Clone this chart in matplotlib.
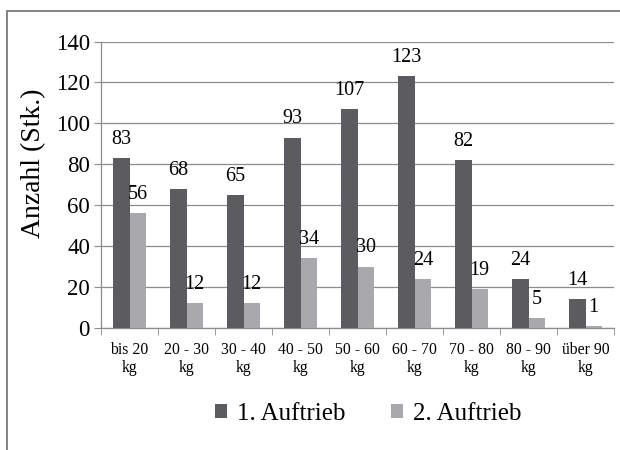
import numpy as np
import matplotlib
matplotlib.use("Agg")
import matplotlib.pyplot as plt
from matplotlib.patches import Rectangle

plt.rcParams['font.family'] = ['Liberation Serif', 'DejaVu Serif']

# Daten
kategorien = ["bis 20\nkg", "20 - 30\nkg", "30 - 40\nkg", "40 - 50\nkg", "50 - 60\nkg",
              "60 - 70\nkg", "70 - 80\nkg", "80 - 90\nkg", "über 90\nkg"]
auftrieb_1 = [83, 68, 65, 93, 107, 123, 82, 24, 14]
auftrieb_2 = [56, 12, 12, 34, 30, 24, 19, 5, 1]
serien = ["1. Auftrieb", "2. Auftrieb"]

dunkel = '#5c5c60'
hell = '#a9a9ad'
grau = '#8c8c8c'

W, H = 620, 450
fig = plt.figure(figsize=(6.2, 4.5), dpi=100)
ax = fig.add_axes([101/W, 1-328/H, (614-101)/W, (328-41.5)/H])

# Rahmen um das Diagramm (rechts und unten abgeschnitten)
fig.patches.append(Rectangle((7/W, -0.1), 1.2, 1-10.5/H+0.1, transform=fig.transFigure,
                             fill=False, edgecolor='#6e6e6e', linewidth=1.2))

x = np.arange(len(kategorien))
w = 0.29
b1 = ax.bar(x - w/2, auftrieb_1, w, color=dunkel, label=serien[0], zorder=3)
b2 = ax.bar(x + w/2, auftrieb_2, w, color=hell, label=serien[1], zorder=3)

for bars, vals in ((b1, auftrieb_1), (b2, auftrieb_2)):
    for r, v in zip(bars, vals):
        ax.text(r.get_x() + r.get_width()/2, v + 4.5, str(v), ha='center', va='bottom',
                fontsize=14.5, color='black')

ax.set_xlim(-0.5, len(kategorien) - 0.5)
ax.set_ylim(0, 140)
ax.set_yticks(range(0, 141, 20))
ax.yaxis.grid(True, color=grau, linewidth=0.9, zorder=0)
ax.tick_params(axis='y', labelsize=16.5, length=5, color=grau, pad=3)

ax.set_xticks(x)
ax.set_xticklabels(kategorien, fontsize=11.3, linespacing=1.15)
ax.set_xticks(np.arange(-0.5, len(kategorien), 1), minor=True)
ax.tick_params(axis='x', which='major', length=0, pad=10)
ax.tick_params(axis='x', which='minor', length=5, color=grau)

for s in ('top', 'right'):
    ax.spines[s].set_visible(False)
for s in ('left', 'bottom'):
    ax.spines[s].set_color(grau)
    ax.spines[s].set_linewidth(0.9)

fig.text(34/W, 1-163/H, "Anzahl (Stk.)", rotation=90, ha='center', va='center', fontsize=20)

fig.legend(handles=[b1, b2], labels=serien, loc='center', bbox_to_anchor=(368/W, 1-414/H),
           ncol=2, frameon=False, fontsize=18, handlelength=0.5, handleheight=0.5,
           handletextpad=0.4, columnspacing=1.8)

fig.savefig("out.png", dpi=100)
